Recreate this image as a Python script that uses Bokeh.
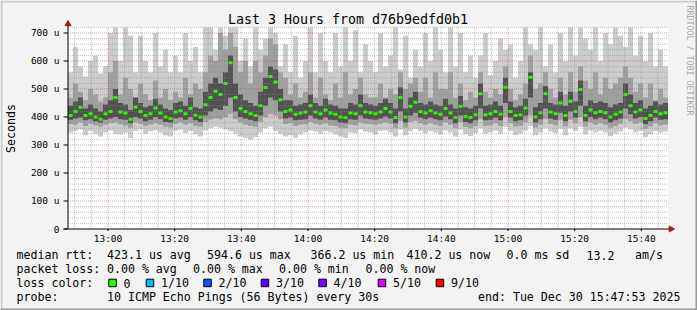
from math import pi
from bokeh.plotting import figure
from bokeh.models import Range1d
from bokeh.core.properties import value
from bokeh.embed import file_html
from bokeh.resources import INLINE

# ---------------- data ----------------
START_MIN = 768.0   # 12:48 (minutes of day)
END_MIN = 948.0     # 15:48
STEP_MIN = 1.5
Y_MAX = 721.4       # micro-seconds

# median rtt (us) per step
MEDIAN = [405, 420, 435, 405, 412, 400, 392, 412, 420, 470, 418, 414, 392, 436, 420, 405, 412, 432, 414, 400,
          395, 418, 422, 412, 430, 406, 400, 444, 470, 492, 480, 520, 594, 470, 430, 420, 412, 405, 440, 505,
          545, 525, 462, 420, 425, 410, 414, 418, 440, 418, 412, 425, 414, 410, 400, 398, 414, 412, 440, 418,
          415, 412, 418, 430, 418, 398, 470, 400, 438, 453, 420, 414, 422, 414, 410, 430, 414, 398, 438, 402,
          398, 408, 483, 408, 412, 420, 410, 506, 420, 405, 408, 432, 542, 400, 415, 483, 418, 412, 450, 405,
          456, 420, 498, 405, 425, 415, 420, 415, 400, 410, 418, 480, 440, 418, 425, 395, 405, 420, 412, 415]

# outer smoke (min / max ping)
SMOKE_LO1 = [345, 350, 355, 335, 350, 340, 330, 345, 352, 340, 338, 345, 325, 350, 355, 340, 348, 352, 345, 335,
             330, 350, 355, 342, 350, 338, 330, 352, 360, 365, 362, 355, 350, 340, 330, 325, 320, 328, 345, 360,
             365, 350, 340, 330, 335, 325, 338, 345, 352, 348, 340, 350, 345, 338, 330, 325, 345, 342, 355, 348,
             345, 338, 350, 352, 345, 330, 355, 335, 350, 358, 350, 342, 350, 345, 338, 352, 345, 330, 355, 338,
             332, 342, 360, 340, 345, 352, 340, 365, 350, 336, 340, 352, 368, 335, 345, 360, 348, 342, 358, 335,
             360, 350, 365, 338, 352, 345, 350, 345, 332, 340, 348, 362, 355, 345, 350, 328, 338, 350, 345, 348]
SMOKE_HI1 = [560, 650, 580, 545, 600, 620, 555, 580, 700, 720, 600, 720, 690, 560, 690, 600, 560, 700, 580, 640,
             560, 620, 560, 700, 600, 650, 560, 720, 720, 640, 720, 690, 720, 720, 600, 680, 580, 720, 640, 680,
             720, 700, 580, 660, 560, 690, 540, 600, 720, 560, 700, 600, 560, 700, 580, 720, 600, 710, 560, 660,
             600, 560, 700, 580, 620, 720, 570, 690, 540, 640, 580, 700, 600, 720, 640, 560, 720, 580, 700, 560,
             620, 540, 620, 700, 550, 600, 680, 640, 660, 540, 600, 720, 660, 640, 720, 580, 660, 560, 700, 600,
             720, 620, 720, 680, 640, 720, 600, 700, 660, 720, 690, 650, 720, 620, 690, 600, 700, 580, 640, 580]
# middle smoke
SMOKE_LO2 = [375, 372, 380, 368, 376, 370, 365, 372, 378, 380, 374, 370, 362, 380, 376, 368, 372, 378, 372, 365,
             362, 376, 380, 372, 378, 368, 365, 382, 390, 395, 392, 400, 410, 392, 380, 372, 368, 365, 382, 400,
             410, 405, 392, 375, 378, 368, 372, 374, 382, 376, 372, 378, 370, 368, 362, 360, 372, 370, 380, 376,
             374, 372, 376, 380, 376, 360, 385, 362, 382, 386, 378, 372, 378, 372, 368, 380, 372, 360, 382, 364,
             360, 368, 392, 368, 370, 378, 368, 400, 378, 366, 368, 380, 405, 362, 372, 392, 376, 370, 388, 366,
             390, 378, 400, 366, 380, 372, 378, 372, 362, 368, 376, 392, 385, 376, 380, 358, 366, 378, 370, 372]
SMOKE_HI2 = [470, 520, 490, 460, 500, 480, 455, 470, 560, 600, 480, 540, 500, 470, 520, 480, 460, 530, 470, 500,
             460, 490, 470, 540, 480, 520, 500, 560, 620, 600, 700, 640, 700, 650, 560, 600, 520, 600, 560, 620,
             680, 660, 560, 540, 480, 520, 470, 490, 560, 470, 540, 480, 460, 520, 470, 560, 480, 500, 540, 480,
             470, 470, 520, 470, 500, 480, 560, 500, 520, 540, 490, 540, 470, 560, 500, 500, 560, 470, 520, 460,
             490, 470, 560, 490, 470, 500, 480, 580, 500, 460, 480, 520, 620, 500, 520, 560, 500, 470, 540, 480,
             560, 490, 580, 530, 500, 560, 480, 540, 500, 520, 540, 580, 540, 490, 520, 470, 520, 460, 500, 470]
# dense (dark) smoke
SMOKE_LO3 = [390, 395, 398, 388, 392, 385, 380, 390, 395, 400, 392, 390, 378, 400, 395, 385, 390, 400, 392, 382,
             380, 395, 398, 390, 400, 388, 382, 405, 420, 430, 425, 440, 470, 420, 400, 395, 390, 385, 405, 440,
             470, 460, 420, 395, 398, 388, 390, 392, 405, 395, 390, 398, 390, 388, 380, 378, 392, 390, 405, 395,
             392, 390, 395, 402, 395, 378, 420, 380, 405, 415, 398, 392, 398, 392, 388, 402, 392, 378, 405, 382,
             378, 388, 430, 388, 390, 398, 388, 450, 398, 385, 388, 405, 470, 380, 392, 430, 395, 390, 415, 385,
             420, 398, 440, 385, 400, 392, 398, 392, 380, 388, 395, 430, 410, 395, 400, 375, 385, 398, 390, 392]
SMOKE_HI3 = [440, 455, 470, 430, 445, 430, 420, 445, 460, 500, 450, 445, 425, 470, 450, 435, 440, 465, 445, 430,
             425, 450, 455, 440, 470, 435, 430, 490, 520, 540, 520, 560, 620, 520, 480, 460, 450, 440, 490, 540,
             580, 570, 500, 460, 460, 440, 445, 450, 480, 450, 440, 465, 445, 440, 430, 430, 450, 445, 480, 450,
             445, 440, 450, 465, 450, 430, 505, 430, 470, 490, 450, 445, 455, 445, 440, 465, 445, 430, 475, 435,
             430, 440, 520, 440, 445, 455, 440, 540, 455, 435, 440, 465, 560, 435, 450, 510, 450, 445, 490, 440,
             490, 455, 530, 440, 460, 450, 455, 450, 435, 445, 450, 520, 480, 450, 460, 430, 440, 455, 445, 450]

Y_TICKS = [0, 100, 200, 300, 400, 500, 600, 700]
Y_TICK_LABELS = ["0", "100 u", "200 u", "300 u", "400 u", "500 u", "600 u", "700 u"]
X_TICKS = [780, 800, 820, 840, 860, 880, 900, 920, 940]
X_TICK_LABELS = ["13:00", "13:20", "13:40", "14:00", "14:20", "14:40", "15:00", "15:20", "15:40"]
X_HOUR_GRID = [780, 840, 900]
X_MINOR_GRID = [770 + 5 * k for k in range(36) if (770 + 5 * k) % 60 != 0]
Y_MINOR_GRID = [20 * k for k in range(1, 37) if k % 5 != 0]
Y_MAJOR_GRID = [100, 200, 300, 400, 500, 600, 700]

TITLE = "Last 3 Hours from d76b9edfd0b1"
Y_LABEL = "Seconds"
WATERMARK = "RRDTOOL / TOBI OETIKER"
LEGEND_RTT = ["median rtt:", "423.1 us avg", "594.6 us max", "366.2 us min", "410.2 us now",
              "0.0 ms sd", "13.2", "am/s"]
LEGEND_LOSS = ["packet loss:", "0.00 % avg", "0.00 % max", "0.00 % min", "0.00 % now"]
LOSS_LABELS = ["0", "1/10", "2/10", "3/10", "4/10", "5/10", "9/10"]
LOSS_COLORS = ["#26ff00", "#00b8ff", "#0059ff", "#5e00ff", "#7e00ff", "#dd00ff", "#ff0000"]
PROBE_ROW = ["probe:", "10 ICMP Echo Pings (56 Bytes) every 30s", "end: Tue Dec 30 15:47:53 2025"]

# ---------------- layout (canvas pixels) ----------------
W, H = 697, 310
FL, FR, FT, FB = 67.5, 667.5, 26.5, 228.5
MONO = "DejaVu Sans Mono"
RTT_X = [16, 106.5, 206.5, 310, 406, 506, 586, 634.5]
LOSS_TXT_X = [16, 106.5, 192.5, 278.5, 365]
SWATCH_X = [108.3, 145.7, 203.3, 260.7, 318.3, 377.7, 435.7]
PROBE_X = [16, 106.5, 477.5]
ROWS = [254.5, 268.5, 282.5, 296]


def px2x(px):
    return START_MIN + (px - FL) * (END_MIN - START_MIN) / (FR - FL)


def py2y(py):
    return (FB - py) * Y_MAX / (FB - FT)


times = [START_MIN + STEP_MIN * (i + 0.5) for i in range(len(MEDIAN))]

p = figure(width=W, height=H, x_range=Range1d(px2x(0), px2x(W)), y_range=Range1d(py2y(H), py2y(0)),
           x_axis_location=None, y_axis_location=None, title=None, min_border=0,
           output_backend="svg", toolbar_location=None,
           background_fill_color="#f3f3f3", border_fill_color="#f3f3f3", outline_line_color=None)
p.grid.visible = False

# plot canvas
p.quad(left=[START_MIN], right=[END_MIN], bottom=[0], top=[Y_MAX], fill_color="white", line_color=None)

# smoke
p.vbar(x=times, width=STEP_MIN * 1.01, bottom=SMOKE_LO1, top=SMOKE_HI1, fill_color="#cccccc", line_color=None)
p.vbar(x=times, width=STEP_MIN * 1.01, bottom=SMOKE_LO2, top=SMOKE_HI2, fill_color="#a0a0a0", line_color=None)
p.vbar(x=times, width=STEP_MIN * 1.01, bottom=SMOKE_LO3, top=SMOKE_HI3, fill_color="#525252", line_color=None)
# median
p.rect(x=times, y=MEDIAN, width=1.2, height=3, height_units="screen", fill_color="#26ff00", line_color=None)

# grid (over the graph, rrdtool style)
GRID_MINOR = dict(line_color="#8c8c8c", line_alpha=0.5, line_dash="1 1", line_width=1)
GRID_MAJOR = dict(line_color="#e02020", line_alpha=0.45, line_dash="1 1", line_width=1)
p.segment(x0=START_MIN, x1=END_MIN, y0=Y_MINOR_GRID, y1=Y_MINOR_GRID, **GRID_MINOR)
p.segment(x0=X_MINOR_GRID, x1=X_MINOR_GRID, y0=0, y1=Y_MAX, **GRID_MINOR)
p.segment(x0=START_MIN, x1=END_MIN, y0=Y_MAJOR_GRID, y1=Y_MAJOR_GRID, **GRID_MAJOR)
p.segment(x0=X_HOUR_GRID, x1=X_HOUR_GRID, y0=0, y1=Y_MAX, **GRID_MAJOR)

# axes
p.segment(x0=[START_MIN], x1=[START_MIN], y0=[0], y1=[py2y(23)], line_color="black", line_width=1)
p.segment(x0=[px2x(63)], x1=[px2x(670)], y0=[0], y1=[0], line_color="black", line_width=1)
p.segment(x0=px2x(63), x1=START_MIN, y0=Y_TICKS, y1=Y_TICKS, line_color="black", line_width=1)
p.segment(x0=X_TICKS, x1=X_TICKS, y0=0, y1=py2y(230.5), line_color="black", line_width=1)
AR = "#a01c1c"
p.scatter(x=[START_MIN], y=[py2y(23.5)], marker="triangle", size=6, fill_color=AR, line_color=AR)
p.scatter(x=[px2x(670.5)], y=[0], marker="triangle", angle=-pi / 2, size=6, fill_color=AR, line_color=AR)

TXT = dict(text_font=value(MONO), text_color="black", text_baseline="middle")
p.text(x=px2x(59), y=Y_TICKS, text=Y_TICK_LABELS, text_align="right",
       text_font_size=value("9.5px"), **TXT)
p.text(x=X_TICKS, y=py2y(238), text=X_TICK_LABELS, text_align="center",
       text_font_size=value("9.5px"), **TXT)

# title / labels
p.text(x=[px2x(347.5)], y=[py2y(19)], text=[TITLE], text_align="center",
       text_font_size=value("13.3px"), **TXT)
p.text(x=[px2x(10)], y=[py2y(128)], text=[Y_LABEL], text_align="center", angle=pi / 2,
       text_font_size=value("11.6px"), **TXT)
p.text(x=[px2x(689)], y=[py2y(5)], text=[WATERMARK], text_align="left", angle=-pi / 2,
       text_font=value(MONO), text_font_size=value("8.3px"), text_color="#a8a8a8", text_baseline="middle")

# legend rows
LEG = dict(text_align="left", text_font_size=value("11.6px"), **TXT)
p.text(x=[px2x(v) for v in RTT_X], y=py2y(ROWS[0]), text=LEGEND_RTT, **LEG)
p.text(x=[px2x(v) for v in LOSS_TXT_X], y=py2y(ROWS[1]), text=LEGEND_LOSS, **LEG)
p.text(x=[px2x(16)], y=[py2y(ROWS[2])], text=["loss color:"], **LEG)
p.quad(left=[px2x(v) for v in SWATCH_X], right=[px2x(v + 7.5) for v in SWATCH_X],
       top=py2y(ROWS[2] - 3.8), bottom=py2y(ROWS[2] + 3.7), fill_color=LOSS_COLORS,
       line_color="black", line_width=1)
p.text(x=[px2x(v + 14.8) for v in SWATCH_X], y=py2y(ROWS[2]), text=LOSS_LABELS, **LEG)
p.text(x=[px2x(v) for v in PROBE_X], y=py2y(ROWS[3]), text=PROBE_ROW, **LEG)

# canvas shading frame
p.quad(left=[px2x(0), px2x(0)], right=[px2x(W), px2x(2)], top=[py2y(0), py2y(0)],
       bottom=[py2y(2), py2y(H)], fill_color="#cbcbcb", line_color=None)
p.quad(left=[px2x(W - 2), px2x(0)], right=[px2x(W), px2x(W)], top=[py2y(0), py2y(H - 2)],
       bottom=[py2y(H), py2y(H)], fill_color="#999999", line_color=None)

open("out.html", "w").write(file_html(p, INLINE))
